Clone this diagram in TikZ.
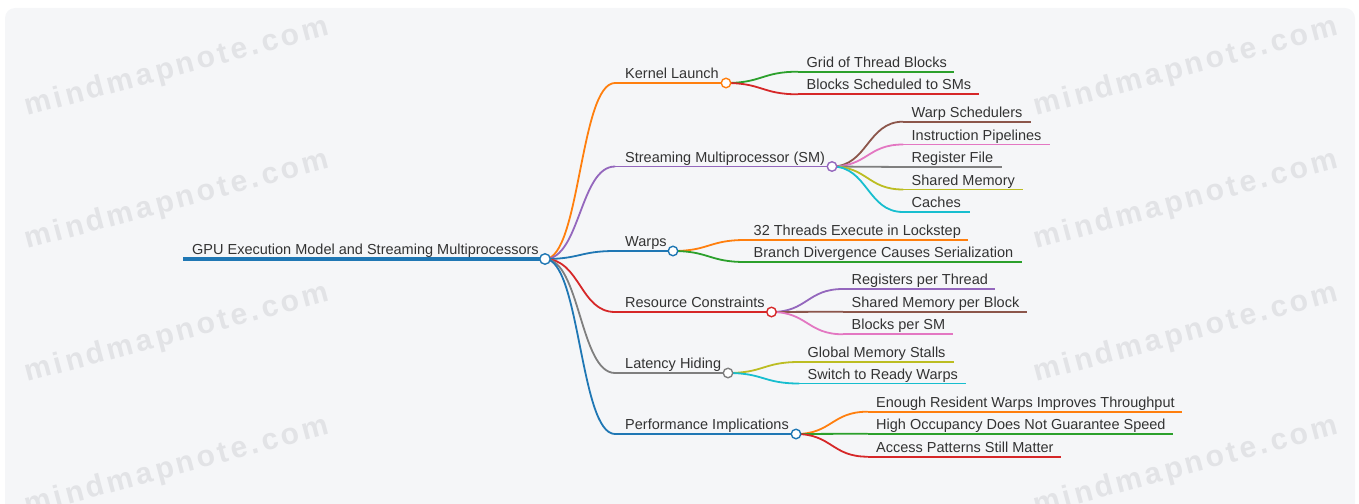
\documentclass[tikz,border=0pt]{standalone}
\usepackage{fontspec}
\setmainfont{Liberation Sans}
\usetikzlibrary{calc}
\definecolor{c0}{HTML}{1F77B4}
\definecolor{c1}{HTML}{FF7F0E}
\definecolor{c2}{HTML}{2CA02C}
\definecolor{c3}{HTML}{D62728}
\definecolor{c4}{HTML}{9467BD}
\definecolor{c5}{HTML}{8C564B}
\definecolor{c6}{HTML}{E377C2}
\definecolor{c7}{HTML}{7F7F7F}
\definecolor{c8}{HTML}{BCBD22}
\definecolor{c9}{HTML}{17BECF}
\definecolor{bgc}{HTML}{F5F6F8}
\definecolor{txt}{HTML}{333333}
\definecolor{wmc}{HTML}{E2E3E6}
\pgfdeclarelayer{back}
\pgfdeclarelayer{links}
\pgfsetlayers{back,links,main}
% link from a circle node to a start coordinate, markmap style
\newcommand\mmlink[3]{\draw[mmedge,#3] let \p1=(#1), \p2=(#2) in (\p1) .. controls ({(\x1+\x2)/2},\y1) and ({(\x1+\x2)/2},\y2) .. (\p2);}
% topic with circle: name, parent, x-start, x-circle, y, colour, text
\newcommand\mmtopic[7]{%
  \coordinate (#1s) at (#3,#5);
  \node[circ,draw=#6] (#1c) at (#4,#5) {};
  \begin{pgfonlayer}{links}
    \mmlink{#2}{#1s}{#6}
    \draw[ul,#6] (#1s) -- (#1c.center);
  \end{pgfonlayer}
  \node[lbl] (#1t) at ($(#1s)+(10,-4.5)$) {#7};}
% leaf: name, parent, x-start, x-end, y, colour, text
\newcommand\mmleaf[7]{%
  \coordinate (#1s) at (#3,#5);
  \coordinate (#1e) at (#4,#5);
  \begin{pgfonlayer}{links}
    \mmlink{#2}{#1s}{#6}
    \draw[ul,#6] (#1s) -- (#1e);
  \end{pgfonlayer}
  \node[lbl] (#1t) at ($(#1s)+(8.5,-4.5)$) {#7};}
\begin{document}
\begin{tikzpicture}[x=1pt,y=-1pt,font=\fontsize{14.5}{16}\selectfont,
  mmedge/.style={line width=1.8pt,line cap=round},
  ul/.style={line width=1.8pt},
  circ/.style={circle,fill=white,line width=1.4pt,minimum size=9.5pt,inner sep=0pt},
  lbl/.style={anchor=base west,text=txt,inner sep=0pt},
  wmk/.style={text=wmc,rotate=15,inner sep=0pt,font=\fontsize{30}{32}\selectfont\bfseries\addfontfeatures{LetterSpace=11}}]
\useasboundingbox (0,0) rectangle (1359,503);
\begin{pgfonlayer}{back}
  \fill[bgc,rounded corners=10pt] (5,8) rectangle (1355,530);
  \node[wmk] (w1) at (177,68) {mindmapnote.com};
  \node[wmk] (w2) at (177,201) {mindmapnote.com};
  \node[wmk] (w3) at (177,334) {mindmapnote.com};
  \node[wmk] (w4) at (177,467) {mindmapnote.com};
  \node[wmk] (w5) at (1186,68) {mindmapnote.com};
  \node[wmk] (w6) at (1186,201) {mindmapnote.com};
  \node[wmk] (w7) at (1186,334) {mindmapnote.com};
  \node[wmk] (w8) at (1186,467) {mindmapnote.com};
\end{pgfonlayer}
% root
\coordinate (rs) at (183,259);
\node[circ,draw=c0,minimum size=10.5pt] (root) at (545,259) {};
\begin{pgfonlayer}{links}
  \draw[c0,line width=3.5pt] (rs) -- (root.center);
\end{pgfonlayer}
\node[lbl] (rt) at (192,254) {GPU Execution Model and Streaming Multiprocessors};
% level 1
\mmtopic{k}{root}{615}{726}{83}{c1}{Kernel Launch}
\mmtopic{s}{root}{615}{832}{166.5}{c4}{Streaming Multiprocessor (SM)}
\mmtopic{w}{root}{615}{673}{251}{c0}{Warps}
\mmtopic{r}{root}{615}{771.5}{312}{c3}{Resource Constraints}
\mmtopic{l}{root}{615}{728}{373}{c7}{Latency Hiding}
\mmtopic{p}{root}{615}{796}{434}{c0}{Performance Implications}
% level 2
\mmleaf{ka}{kc}{798}{954}{71.7}{c2}{Grid of Thread Blocks}
\mmleaf{kb}{kc}{798}{979}{94.3}{c3}{Blocks Scheduled to SMs}
\mmleaf{sa}{sc}{903}{1031}{121.7}{c5}{Warp Schedulers}
\mmleaf{sb}{sc}{903}{1050}{144.5}{c6}{Instruction Pipelines}
\mmleaf{sd}{sc}{903}{1002}{167}{c7}{Register File}
\mmleaf{se}{sc}{903}{1023}{189.5}{c8}{Shared Memory}
\mmleaf{sf}{sc}{903}{970}{212}{c9}{Caches}
\mmleaf{wa}{wc}{745}{968}{240}{c1}{32 Threads Execute in Lockstep}
\mmleaf{wb}{wc}{745}{1022}{262}{c2}{Branch Divergence Causes Serialization}
\mmleaf{ra}{rc}{843}{995}{289}{c4}{Registers per Thread}
\mmleaf{rb}{rc}{843}{1027}{311.7}{c5}{Shared Memory per Block}
\mmleaf{rd}{rc}{843}{953}{334.3}{c6}{Blocks per SM}
\mmleaf{la}{lc}{799}{954}{362}{c8}{Global Memory Stalls}
\mmleaf{lb}{lc}{799}{966}{383.5}{c9}{Switch to Ready Warps}
\mmleaf{pa}{pc}{867.5}{1182}{411.7}{c1}{Enough Resident Warps Improves Throughput}
\mmleaf{pb}{pc}{867.5}{1173}{433.7}{c2}{High Occupancy Does Not Guarantee Speed}
\mmleaf{pd}{pc}{867.5}{1061}{456.7}{c3}{Access Patterns Still Matter}
\end{tikzpicture}
\end{document}
